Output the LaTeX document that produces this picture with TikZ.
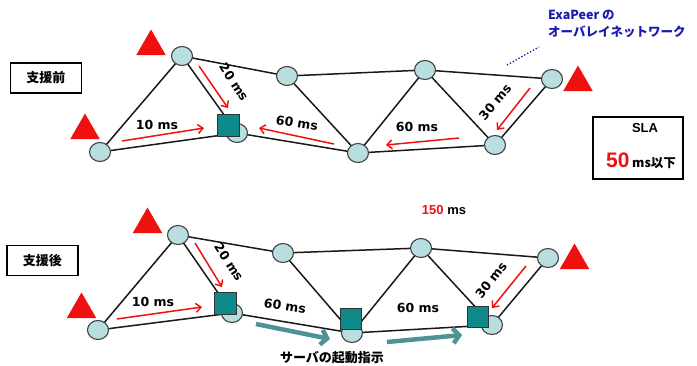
\documentclass[tikz,border=0pt]{standalone}
\usepackage{fontspec}
\setmainfont{Liberation Sans}
\newfontfamily\dv{DejaVu Sans}
\newfontfamily\jp{Noto Sans CJK JP}
\usetikzlibrary{arrows.meta,shapes.geometric}
\definecolor{nodefill}{HTML}{B9DEE0}
\definecolor{sqfill}{HTML}{0F8A8A}
\definecolor{tealarrow}{HTML}{4D9396}
\definecolor{myred}{HTML}{F01010}
\definecolor{myblue}{HTML}{1A1AB0}
\begin{document}
\begin{tikzpicture}[x=1pt,y=-1pt,
 nd/.style={ellipse, draw=black!75, fill=nodefill, line width=1.1pt, minimum width=21pt, minimum height=19pt, inner sep=0pt},
 sqr/.style={rectangle, draw=black!80, fill=sqfill, line width=1pt, minimum size=22pt, inner sep=0pt},
 tri/.style={regular polygon, regular polygon sides=3, fill=myred, minimum size=34pt, inner sep=0pt},
 edgeln/.style={line width=1.5pt, black!90},
 redarr/.style={myred, line width=1.5pt, -{Straight Barb[length=5pt,width=9pt]}},
 tealarr/.style={tealarrow, line width=4.5pt, -{Straight Barb[length=6pt,width=15pt]}},
 ms/.style={font=\dv\bfseries\fontsize{12.5}{14}\selectfont, inner sep=0pt},
 lbox/.style={draw, line width=1.6pt, minimum width=71pt, minimum height=30pt, inner sep=0pt, font=\jp\bfseries\fontsize{13}{15}\selectfont},
]
\useasboundingbox (0,0) rectangle (697,365);

% ---------- top network ----------
\coordinate (A) at (100,152);
\coordinate (B) at (182,56);
\coordinate (C) at (237,133);
\coordinate (D) at (287,76);
\coordinate (E) at (358,153);
\coordinate (F) at (425,70);
\coordinate (G) at (495,145);
\coordinate (H) at (552,79);
\draw[edgeln] (A)--(B) (A)--(C) (B)--(C) (B)--(D) (D)--(E) (C)--(E)
  (D)--(F) (F)--(E) (F)--(G) (F)--(H) (E)--(G) (G)--(H);
\foreach \n in {A,B,C,D,E,F,G,H} \node[nd] (n\n) at (\n) {};
\node[sqr] (sC) at (228,125) {};
\node[tri] (t1) at (151,46.5) {};
\node[tri] (t2) at (85,130.5) {};
\node[tri] (t3) at (578,82.5) {};

\coordinate (r1s) at (122,141); \coordinate (r1e) at (204,128);
\coordinate (r2s) at (199,66);  \coordinate (r2e) at (228,108);
\coordinate (r3s) at (334,144); \coordinate (r3e) at (259,128);
\coordinate (r4s) at (459,138); \coordinate (r4e) at (386,145);
\coordinate (r5s) at (530,88);  \coordinate (r5e) at (497,130);
\draw[redarr] (r1s) -- (r1e);
\draw[redarr] (r2s) -- (r2e);
\draw[redarr] (r3s) -- (r3e);
\draw[redarr] (r4s) -- (r4e);
\draw[redarr] (r5s) -- (r5e);
\node[ms] (l1) at (157,125) {10 ms};
\node[ms, rotate=-57] (l2) at (234,82) {20 ms};
\node[ms, rotate=-9] (l3) at (297,123) {60 ms};
\node[ms] (l4) at (417,127) {60 ms};
\node[ms, rotate=50] (l5) at (495,102) {30 ms};

\node[lbox] (before) at (46,78) {支援前};

% ExaPeer label
\node[anchor=north west, align=left, inner sep=0pt, text=myblue,
  font=\jp\bfseries\fontsize{12.5}{17}\selectfont] (exa) at (548,10)
  {ExaPeer の\\オーバレイネットワーク};
\coordinate (dl1) at (507,65); \coordinate (dl2) at (539,47);
\draw[myblue, line width=1.3pt, dotted] (dl1) -- (dl2);

% SLA box
\node[draw, line width=1.6pt, minimum width=90pt, minimum height=62pt, inner sep=0pt] (sla) at (638,148) {};
\node[font=\bfseries\fontsize{13}{15}\selectfont, inner sep=0pt] (slat) at (645,128) {SLA};
\node[inner sep=0pt, font=\bfseries] (slav) at (641,161)
  {{\color{myred}\fontsize{21}{22}\selectfont 50}\ {\jp\bfseries\fontsize{12.5}{14}\selectfont ms以下}};

\node[inner sep=0pt, font=\bfseries\fontsize{13}{15}\selectfont] (tot) at (444,210) {{\color{myred}150} ms};

% ---------- bottom network ----------
\coordinate (A2) at (98,330);
\coordinate (B2) at (178,235);
\coordinate (C2) at (232,313);
\coordinate (D2) at (283,253);
\coordinate (E2) at (352,333);
\coordinate (F2) at (421,248);
\coordinate (G2) at (492,325);
\coordinate (H2) at (548,258);
\draw[edgeln] (A2)--(B2) (A2)--(C2) (B2)--(C2) (B2)--(D2) (D2)--(E2) (C2)--(E2)
  (D2)--(F2) (F2)--(E2) (F2)--(G2) (F2)--(H2) (E2)--(G2) (G2)--(H2);
\foreach \n in {A2,B2,C2,D2,E2,F2,G2,H2} \node[nd] (n\n) at (\n) {};
\node[sqr] (sC2) at (225,303) {};
\node[sqr, minimum size=21pt] (sE2) at (350.5,319) {};
\node[sqr, minimum size=21pt] (sG2) at (477.5,316.5) {};
\node[tri] (t4) at (147.5,224.5) {};
\node[tri] (t5) at (81.5,309.5) {};
\node[tri] (t6) at (574.5,260.5) {};

\coordinate (b1s) at (117,319); \coordinate (b1e) at (202,307);
\coordinate (b2s) at (195,243); \coordinate (b2e) at (222,287);
\coordinate (b5s) at (526,266); \coordinate (b5e) at (492,308);
\draw[redarr] (b1s) -- (b1e);
\draw[redarr] (b2s) -- (b2e);
\draw[redarr] (b5s) -- (b5e);
\node[ms] (m1) at (153,302) {10 ms};
\node[ms, rotate=-57] (m2) at (229,262) {20 ms};
\node[ms, rotate=-9] (m3) at (285,306) {60 ms};
\node[ms] (m4) at (418,308) {60 ms};
\node[ms, rotate=52] (m5) at (491,280) {30 ms};

\coordinate (g1s) at (256,324); \coordinate (g1e) at (330,339);
\coordinate (g2s) at (387,342); \coordinate (g2e) at (462,335);
\draw[tealarr] (g1s) -- (g1e);
\draw[tealarr] (g2s) -- (g2e);
\node[inner sep=0pt, font=\jp\bfseries\fontsize{13}{15}\selectfont] (start) at (332,358) {サーバの起動指示};

\node[lbox] (after) at (42.5,260.5) {支援後};
\end{tikzpicture}
\end{document}
